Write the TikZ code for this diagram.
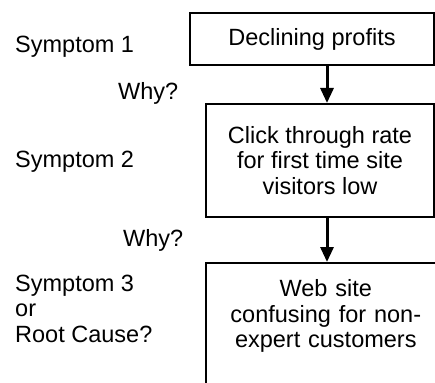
\documentclass[tikz,border=0pt]{standalone}
\usepackage{fontspec}
\setmainfont{Liberation Sans}
\usetikzlibrary{arrows.meta, positioning}
\newcommand{\chartfont}{\fontsize{23.5}{25.5}\selectfont}

\begin{document}
\begin{tikzpicture}[x=1pt, y=-1pt,
      box/.style={draw=black, line width=1.6pt, align=center, font=\chartfont},
      link/.style={-{Triangle[width=13pt, length=15pt]}, line width=3pt},
      note/.style={anchor=base west, inner sep=0pt, font=\chartfont}
    ]
    \useasboundingbox (0,0) rectangle (435,382);
    \clip (0,0) rectangle (435,382);
    \node[box, minimum width=244, minimum height=52] (cause1) at (312,39) {Declining profits};
    \node[box, anchor=north, minimum width=228, minimum height=113] (cause2) at (320,103)
      {Click through rate\\for first time site\\visitors low};
    \node[box, anchor=north west, minimum width=240, text width=226, inner ysep=17pt, text depth=150pt] (cause3) at (205,262)
      {Web site\\confusing for non-\\expert customers};
    \coordinate (axis) at (327,0);
    \draw[link] (cause1.south -| axis) -- (cause2.north -| axis);
    \draw[link] (cause2.south -| axis) -- (cause3.north -| axis);
    \node[note] (sym1) at (15,53) {Symptom 1};
    \node[note] (why1) at (118,100) {Why?};
    \node[note] (sym2) at (15,167) {Symptom 2};
    \node[note] (why2) at (123,246) {Why?};
    \node[note] (sym3) at (15,291) {Symptom 3};
    \node[note, below=25.5pt of sym3.base west, anchor=base west] (or) {or};
    \node[note, below=25.5pt of or.base west, anchor=base west] (root) {Root Cause?};
  \end{tikzpicture}
\end{document}
